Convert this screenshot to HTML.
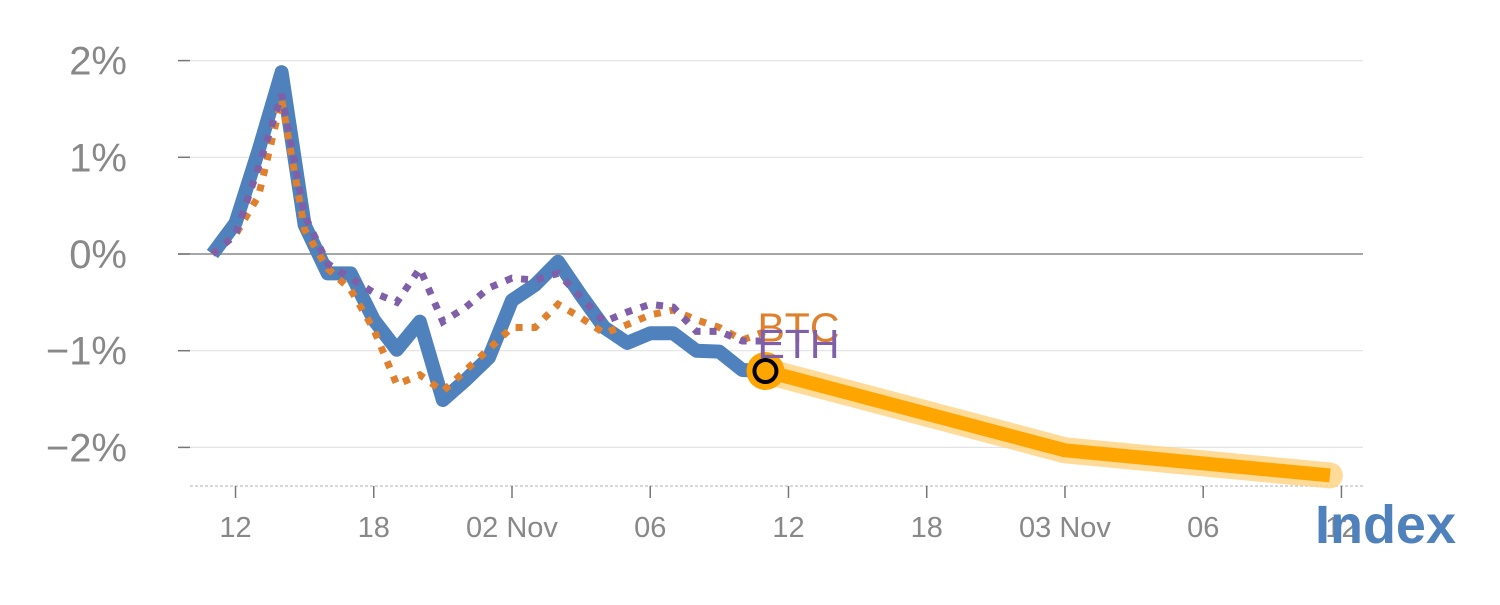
<!DOCTYPE html>
<html><head><meta charset="utf-8"><style>
html,body{margin:0;padding:0;background:#fff;}
svg text{font-family:"Liberation Sans",sans-serif;}
</style></head><body>
<svg id="chart" width="1500" height="600" viewBox="0 0 1500 600" xmlns="http://www.w3.org/2000/svg">
<g id="grid"></g><g id="axes"></g><g id="series"></g><g id="labels"></g>
</svg>
<script>
const hours = [11,12,13,14,15,16,17,18,19,20,21,22,23,24,25,26,27,28,29,30,31,32,33,34,35];
const indexValues = [0,0.32,1.07,1.88,0.30,-0.2,-0.2,-0.68,-0.99,-0.70,-1.51,-1.30,-1.07,-0.48,-0.32,-0.08,-0.43,-0.76,-0.92,-0.82,-0.82,-1.0,-1.01,-1.2,-1.21];
const btcValues = [0,0.2,0.6,1.6,0.25,-0.15,-0.37,-0.78,-1.35,-1.25,-1.42,-1.2,-0.98,-0.76,-0.76,-0.52,-0.66,-0.82,-0.73,-0.63,-0.58,-0.68,-0.76,-0.89,-0.8];
const ethValues = [0,0.2,0.9,1.65,0.4,-0.1,-0.25,-0.4,-0.5,-0.15,-0.7,-0.55,-0.35,-0.25,-0.27,-0.2,-0.45,-0.7,-0.6,-0.52,-0.55,-0.8,-0.8,-0.9,-0.9];
const forecastHours = [35,48,59.5];
const forecastValues = [-1.21,-2.03,-2.29];
const yTicks = [2,1,0,-1,-2];
const yTickLabels = ["2%","1%","0%","−1%","−2%"];
const xTickHours = [12,18,24,30,36,42,48,54,60];
const xTickLabels = ["12","18","02 Nov","06","12","18","03 Nov","06","12"];

const NS="http://www.w3.org/2000/svg";
const x = h => 512 + (h-24)*23.04;
const y = v => 254 - v*96.7;
function el(tag, attrs, parent){const e=document.createElementNS(NS,tag);for(const k in attrs)e.setAttribute(k,attrs[k]);document.getElementById(parent).appendChild(e);return e;}

yTicks.forEach((v,i)=>{
  const g=el('line',{x1:178,x2:1363,y1:y(v),y2:y(v),stroke:v===0?'#888':'#e3e3e3','stroke-width':v===0?1.5:1.2},'grid');
  
  
  const t=el('line',{x1:178,x2:190,y1:y(v),y2:y(v),stroke:'#777','stroke-width':1.5},'axes');
  
  
  const l=el('text',{x:127,y:y(v)+14,'text-anchor':'end','font-size':40,fill:'#888'},'axes');
  l.textContent=yTickLabels[i];
  
  
});
const base=el('line',{x1:190,x2:1365,y1:486,y2:486,stroke:'#ccc','stroke-width':1.5,'stroke-dasharray':'3,2'},'axes');


xTickHours.forEach((h,i)=>{
  const t=el('line',{x1:x(h),x2:x(h),y1:486,y2:498,stroke:'#777','stroke-width':1.5},'axes');
  
  
  const l=el('text',{x:x(h),y:537,'text-anchor':'middle','font-size':29,fill:'#888'},'axes');
  l.textContent=xTickLabels[i];
  
  
});
const pts=(hs,vs)=>hs.map((h,i)=>x(h)+','+y(vs[i])).join(' ');
const fc1=el('polyline',{points:pts(forecastHours,forecastValues),fill:'none',stroke:'#FFD27F','stroke-width':26,'stroke-linejoin':'round','stroke-linecap':'round',opacity:0.8},'series');


const fc=el('polyline',{points:pts(forecastHours,forecastValues),fill:'none',stroke:'#FFA500','stroke-width':14,'stroke-linejoin':'round'},'series');


const ix=el('polyline',{points:pts(hours,indexValues),fill:'none',stroke:'#4F81BD','stroke-width':14,'stroke-linejoin':'round'},'series');


const bt=el('polyline',{points:pts(hours,btcValues),fill:'none',stroke:'#E07F2C','stroke-width':7,'stroke-dasharray':'7,9'},'series');


const et=el('polyline',{points:pts(hours,ethValues),fill:'none',stroke:'#7E5FA8','stroke-width':7,'stroke-dasharray':'7,9'},'series');


const lastH=hours[hours.length-1], lastV=indexValues[indexValues.length-1];
const m1=el('circle',{cx:x(lastH),cy:y(lastV),r:19,fill:'#FFA500'},'series');


const m2=el('circle',{cx:x(lastH),cy:y(lastV),r:11,fill:'#FFA500',stroke:'#000','stroke-width':4},'series');


const lb=el('text',{x:x(lastH)-8,y:y(btcValues[btcValues.length-1])+10,'font-size':41,fill:'#E07F2C'},'labels');
lb.textContent='BTC';


const le=el('text',{x:x(lastH)-8,y:y(ethValues[ethValues.length-1])+17,'font-size':41,fill:'#7E5FA8'},'labels');
le.textContent='ETH';


const li=el('text',{x:1456,y:543,'text-anchor':'end','font-size':54,'font-weight':'bold',fill:'#4F81BD'},'labels');
li.textContent='Index';


</script>
</body></html>
